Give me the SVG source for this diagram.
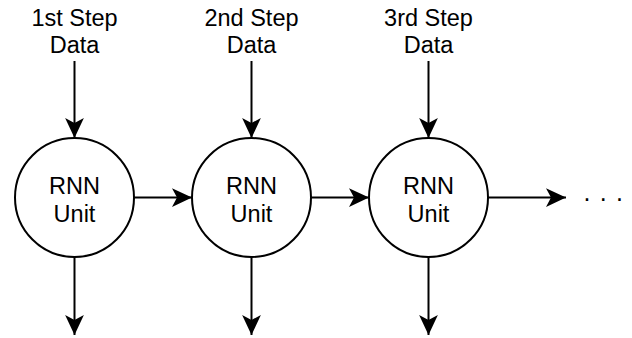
<svg xmlns="http://www.w3.org/2000/svg" width="632" height="338" viewBox="0 0 632 338">
<style>
text{font-family:"Liberation Sans",Arial,Helvetica,sans-serif;font-size:23.5px;fill:#000;text-anchor:middle}
.node circle{fill:#fff;stroke:#000;stroke-width:2}
.edge{stroke:#000;stroke-width:2;fill:none;marker-end:url(#arr)}
.dot{fill:#000}
</style>
<defs>
<marker id="arr" markerUnits="userSpaceOnUse" markerWidth="20" markerHeight="20" viewBox="0 0 16 16" refX="16" refY="8" orient="auto">
<path d="M0,0.5 L16,8 L0,15.5 L4,8 Z" fill="#000"/>
</marker>
</defs>
<rect width="632" height="338" fill="#fff"/>
<g id="connectors">
<line class="edge" x1="74.5" y1="61" x2="74.5" y2="138"/>
<line class="edge" x1="251.5" y1="61" x2="251.5" y2="138"/>
<line class="edge" x1="428.5" y1="61" x2="428.5" y2="138"/>
<line class="edge" x1="134" y1="197.5" x2="192" y2="197.5"/>
<line class="edge" x1="311" y1="197.5" x2="369" y2="197.5"/>
<line class="edge" x1="488" y1="197.5" x2="566" y2="197.5"/>
<line class="edge" x1="74.5" y1="257" x2="74.5" y2="335"/>
<line class="edge" x1="251.5" y1="257" x2="251.5" y2="335"/>
<line class="edge" x1="428.5" y1="257" x2="428.5" y2="335"/>
</g>
<g id="label1"><text x="74.5" y="25.5">1st Step</text><text x="74.5" y="52.5">Data</text></g>
<g id="label2"><text x="251.5" y="25.5">2nd Step</text><text x="251.5" y="52.5">Data</text></g>
<g id="label3"><text x="428.5" y="25.5">3rd Step</text><text x="428.5" y="52.5">Data</text></g>
<g id="rnn1" class="node"><circle cx="74.5" cy="197.5" r="59.5"/><text x="74.5" y="194">RNN</text><text x="74.5" y="222">Unit</text></g>
<g id="rnn2" class="node"><circle cx="251.5" cy="197.5" r="59.5"/><text x="251.5" y="194">RNN</text><text x="251.5" y="222">Unit</text></g>
<g id="rnn3" class="node"><circle cx="428.5" cy="197.5" r="59.5"/><text x="428.5" y="194">RNN</text><text x="428.5" y="222">Unit</text></g>
<g id="ellipsis"><text x="583.4 599.8 616" y="201" style="text-anchor:start;font-size:25px">...</text></g>
</svg>
